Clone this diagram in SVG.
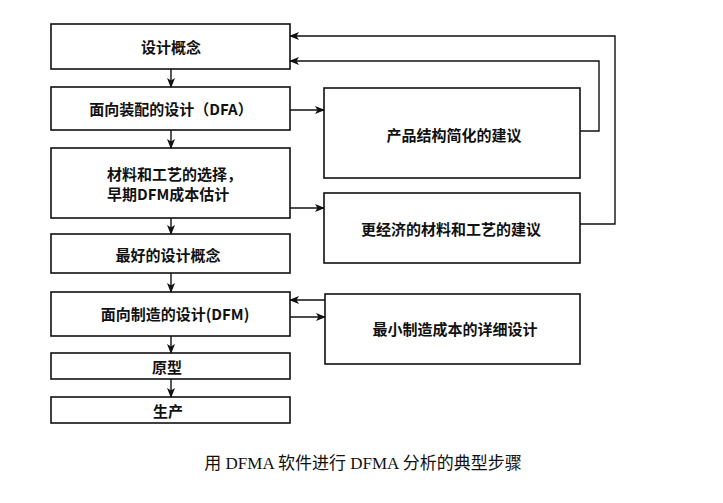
<svg xmlns="http://www.w3.org/2000/svg" width="723" height="503" viewBox="0 0 723 503">
<defs>
<marker id="ah" markerWidth="10" markerHeight="8" refX="9" refY="4" orient="auto" markerUnits="userSpaceOnUse">
<path d="M0,0 L10,4 L0,8 L2.5,4 Z" fill="#111"/>
</marker>
<style>
.box{fill:#fff;stroke:#111;stroke-width:1.6}
.t{font-family:"Noto Sans CJK SC","Noto Sans",sans-serif;font-size:15px;font-weight:600;fill:#111;dominant-baseline:central}
.c{text-anchor:middle}
.ln{fill:none;stroke:#111;stroke-width:1.4}
.cap{font-family:"Liberation Serif","Noto Sans CJK SC",serif;font-size:17px;fill:#111;text-anchor:middle;dominant-baseline:central}
</style>
</defs>
<rect width="723" height="503" fill="#fff"/>
<g id="n1"><rect class="box" x="51" y="24" width="239" height="45"/><text class="t c" x="171" y="46">设计概念</text></g>
<g id="n2"><rect class="box" x="51" y="87" width="239" height="43"/><text class="t c" x="171" y="108">面向装配的设计（DFA）</text></g>
<g id="n3"><rect class="box" x="51" y="148" width="239" height="70"/><text class="t" x="107" y="173">材料和工艺的选择，</text><text class="t" x="107" y="193">早期DFM成本估计</text></g>
<g id="n4"><rect class="box" x="51" y="234" width="239" height="39"/><text class="t c" x="168" y="254">最好的设计概念</text></g>
<g id="n5"><rect class="box" x="51" y="292" width="239" height="44"/><text class="t c" x="175" y="313">面向制造的设计(DFM)</text></g>
<g id="n6"><rect class="box" x="51" y="353" width="239" height="26"/><text class="t c" x="167" y="366">原型</text></g>
<g id="n7"><rect class="box" x="51" y="397" width="239" height="26"/><text class="t c" x="168" y="410">生产</text></g>
<g id="nA"><rect class="box" x="324" y="88" width="256" height="90"/><text class="t c" x="454" y="134">产品结构简化的建议</text></g>
<g id="nB"><rect class="box" x="324" y="193" width="256" height="70"/><text class="t c" x="451" y="228">更经济的材料和工艺的建议</text></g>
<g id="nC"><rect class="box" x="325" y="294" width="255" height="70"/><text class="t c" x="455" y="328">最小制造成本的详细设计</text></g>
<g id="connectors">
<line class="ln" x1="171" y1="69" x2="171" y2="87" marker-end="url(#ah)"/>
<line class="ln" x1="171" y1="130" x2="171" y2="148" marker-end="url(#ah)"/>
<line class="ln" x1="171" y1="218" x2="171" y2="234" marker-end="url(#ah)"/>
<line class="ln" x1="171" y1="273" x2="171" y2="292" marker-end="url(#ah)"/>
<line class="ln" x1="171" y1="336" x2="171" y2="353" marker-end="url(#ah)"/>
<line class="ln" x1="171" y1="379" x2="171" y2="397" marker-end="url(#ah)"/>
<line class="ln" x1="290" y1="110" x2="324" y2="110" marker-end="url(#ah)"/>
<line class="ln" x1="290" y1="208" x2="324" y2="208" marker-end="url(#ah)"/>
<line class="ln" x1="325" y1="300" x2="290" y2="300" marker-end="url(#ah)"/>
<line class="ln" x1="290" y1="317" x2="325" y2="317" marker-end="url(#ah)"/>
<polyline class="ln" points="580,131 599,131 599,61 290,61" marker-end="url(#ah)"/>
<polyline class="ln" points="580,224 615,224 615,36 290,36" marker-end="url(#ah)"/>
</g>
<text class="cap" x="363" y="463">用 DFMA 软件进行 DFMA 分析的典型步骤</text>
</svg>
